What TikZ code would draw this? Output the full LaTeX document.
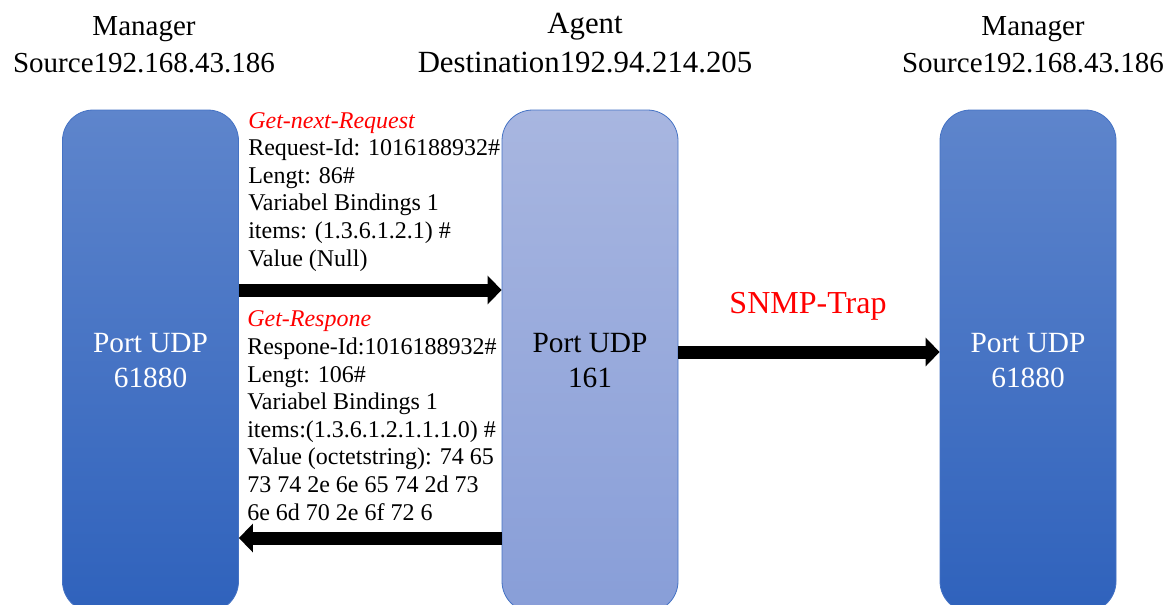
\documentclass[tikz,border=0pt]{standalone}
\usepackage{fontspec}
\setmainfont{Liberation Serif}
\usetikzlibrary{arrows.meta}

\definecolor{boxline}{RGB}{68,114,196}
\definecolor{mgrtop}{RGB}{94,133,204}
\definecolor{mgrbot}{RGB}{47,98,188}
\definecolor{agttop}{RGB}{168,182,224}
\definecolor{agtbot}{RGB}{136,158,216}

\begin{document}
\begin{tikzpicture}[x=0.75pt,y=-0.75pt,
  port/.style = {draw=boxline, line width=0.6pt, rounded corners=23pt,
    minimum width=132pt, minimum height=376.5pt, align=center,
    font=\fontsize{22}{26.25}\selectfont},
  mgr/.style = {port, top color=mgrtop, bottom color=mgrbot, text=white},
  agt/.style = {port, top color=agttop, bottom color=agtbot},
  msg/.style = {anchor=base west, inner sep=0pt, align=left,
    font=\fontsize{18}{20.7}\selectfont},
  head/.style = {anchor=base, inner sep=0pt, align=center,
    font=\fontsize{21.75}{27.75}\selectfont},
  fat/.style = {line width=9.75pt, -{Triangle[length=10.5pt,width=21pt]}}]
\useasboundingbox (0,0) rectangle (1172,604);
\clip (0,0) rectangle (1172,604);

% the three hosts
\node [mgr] (mgrL) at (150.5,361) {Port UDP\\61880};
\node [agt] (agent) at (590,361) {Port UDP\\161};
\node [mgr] (mgrR) at (1028,361) {Port UDP\\61880};

% base anchor sits on the last line
\node [head] (hL) at (144,72) {Manager\\Source192.168.43.186};
\node [head, font=\fontsize{23.1}{29.25}\selectfont] (hA) at (585,72)
  {Agent\\Destination192.94.214.205};
\node [head] (hR) at (1033,72) {Manager\\Source192.168.43.186};

% request / response packets
\node [msg] (req) at (248,266) {{\color{red}\itshape Get-next-Request}\\
  Request-Id: 1016188932\#\\
  Lengt: 86\#\\
  Variabel Bindings 1\\
  items: (1.3.6.1.2.1) \#\\
  Value (Null)};
\node [msg] (resp) at (247,520) {{\color{red}\itshape Get-Respone}\\
  Respone-Id:1016188932\#\\
  Lengt: 106\#\\
  Variabel Bindings 1\\
  items:(1.3.6.1.2.1.1.1.0) \#\\
  Value (octetstring): 74 65\\
  73 74 2e 6e 65 74 2d 73\\
  6e 6d 70 2e 6f 72 6};

\draw [fat] (mgrL.east |- 0,290) -- (agent.west |- 0,290);
\draw [fat] (agent.west |- 0,538) -- (mgrL.east |- 0,538);

% trap
\node [anchor=base, inner sep=0pt, text=red, font=\fontsize{24}{28}\selectfont]
  (trap) at (808,313) {SNMP-Trap};
\draw [fat] (agent.east |- 0,352) -- (mgrR.west |- 0,352);
\end{tikzpicture}
\end{document}
